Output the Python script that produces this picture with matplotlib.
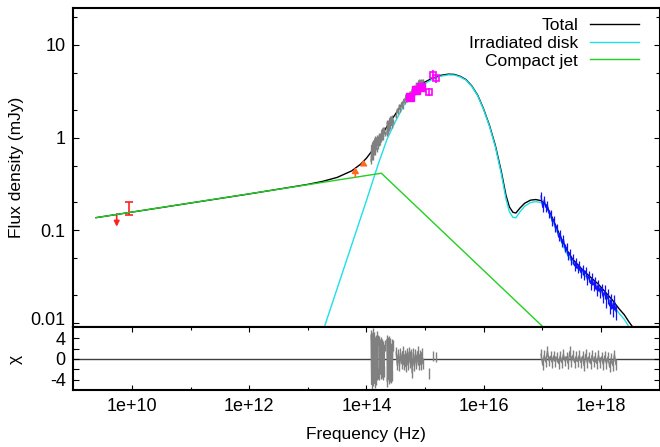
import numpy as np
import matplotlib
matplotlib.use('Agg')
import matplotlib.pyplot as plt
import matplotlib.transforms as mtransforms

plt.rcParams['font.family'] = ['Liberation Sans', 'DejaVu Sans']
plt.rcParams['font.size'] = 13

# ---- model curves (Hz, mJy) ----
jet_nu = [2.44e9, 1.8e14, 1e18]
jet_flux = [0.137, 0.413, 0.00232]

disk_nu = [1e13, 3.16e13, 1e14, 1.585e14, 2.24e14, 3.16e14, 4.47e14, 6.31e14, 8.91e14,
           1.26e15, 1.78e15, 2.51e15, 3.16e15, 3.98e15, 5.01e15, 6.31e15, 7.94e15,
           1.0e16, 1.26e16, 1.585e16, 2.0e16, 2.4e16, 2.75e16, 3.16e16, 3.55e16,
           4.17e16, 5.01e16, 6.31e16, 7.76e16, 9.55e16, 1.175e17, 1.51e17, 1.95e17,
           2.51e17, 3.31e17, 4.57e17, 6.31e17, 8.91e17, 1.23e18, 1.585e18, 2.04e18,
           2.51e18, 3.02e18, 3.98e18]
disk_flux = [0.00263, 0.0234, 0.209, 0.513, 0.955, 1.514, 2.291, 3.020, 3.673,
             4.169, 4.571, 4.753, 4.732, 4.519, 4.169, 3.548, 2.818,
             1.995, 1.318, 0.794, 0.407, 0.219, 0.1585, 0.138, 0.1365,
             0.1585, 0.182, 0.1995, 0.204, 0.1995, 0.178, 0.126, 0.0851,
             0.0589, 0.0442, 0.0355, 0.0292, 0.0240, 0.0191, 0.01585, 0.01276,
             0.01096, 0.00908, 0.00708]

total_nu = [2.44e9, 1e12, 3.16e12, 5.62e12, 1e13, 1.78e13, 3.16e13, 5.62e13, 7.94e13,
            1e14, 1.26e14, 1.585e14, 2.24e14, 3.16e14, 4.47e14, 6.31e14, 8.91e14,
            1.26e15, 1.78e15, 2.51e15, 3.16e15, 3.98e15, 5.01e15, 6.31e15, 7.94e15,
            1.0e16, 1.26e16, 1.585e16, 2.0e16, 2.4e16, 2.75e16, 3.16e16, 3.55e16,
            4.17e16, 5.01e16, 6.31e16, 7.76e16, 9.55e16, 1.175e17, 1.51e17, 1.95e17,
            2.51e17, 3.31e17, 4.57e17, 6.31e17, 8.91e17, 1.23e18, 1.585e18, 2.04e18,
            2.51e18, 3.02e18, 3.98e18]
total_flux = [0.137, 0.247, 0.278, 0.295, 0.313, 0.337, 0.372, 0.438, 0.516,
              0.599, 0.726, 0.921, 1.316, 1.808, 2.530, 3.214, 3.831,
              4.297, 4.675, 4.838, 4.806, 4.583, 4.225, 3.597, 2.860,
              2.032, 1.350, 0.822, 0.432, 0.240, 0.1785, 0.1565, 0.1537,
              0.1741, 0.196, 0.2117, 0.2148, 0.209, 0.1862, 0.1331, 0.0913,
              0.0642, 0.0487, 0.0392, 0.0322, 0.0265, 0.0211, 0.0176, 0.01427,
              0.01229, 0.01027, 0.00809]

# ---- radio ----
radio_ul_nu = 5.5e9
radio_ul_flux = 0.150
radio_nu = 8.9e9
radio_flux = 0.175
radio_err = 0.028

# ---- mid-IR lower limits ----
ir_lim_nu = [6.47e13, 8.95e13]
ir_lim_flux = [0.379, 0.53]

# ---- near-IR spectra (grey), log10 frequency ranges of each chunk ----
nir_ranges = [(14.08, 14.20), (14.213, 14.310), (14.349, 14.451), (14.509, 14.963)]
nir_flux = [
    [0.558, 0.824, 0.624, 0.879, 0.621, 0.877, 0.695, 0.970, 0.697, 0.950, 0.745, 0.990, 0.817, 0.970],
    [0.861, 1.062, 0.883, 1.086, 0.948, 1.194, 1.014, 1.222, 1.014, 1.242, 1.104],
    [1.094, 1.472, 1.167, 1.503, 1.247, 1.603, 1.330, 1.633, 1.358, 1.667, 1.483],
    [1.683, 2.014, 1.866, 2.234, 1.986, 2.377, 2.109, 2.576, 2.393, 2.864, 2.518, 2.891, 2.576,
     3.097, 2.761, 3.319, 2.965, 3.556, 3.027, 3.811, 3.243, 4.083, 3.319, 4.140, 3.483, 4.150],
]
nir_rel_err = [0.07, 0.06, 0.06, 0.04]
nir_chi = [
    [4.6, -4.9, 3.8, -4.3, 5.0, -3.6, 4.2, -4.7, 3.3, -4.0, 4.4, -3.1, 3.6, -2.8],
    [3.4, -3.1, 2.8, -2.9, 3.2, -2.6, 2.9, -3.0, 2.5, -2.4, 2.6],
    [3.7, -4.4, 3.2, -3.9, 3.5, -3.4, 3.0, -3.6, 2.8, -3.2, 2.6],
    [1.3, -1.2, 1.0, -1.4, 1.2, -0.9, 1.4, -1.1, 0.8, -1.5, 1.1, -1.2, 1.3,
     -0.8, 1.0, -2.7, 1.2, -1.3, 0.9, -1.0, 1.4, -1.2, 0.8, -1.1, 1.2, -0.9],
]

# ---- optical / UV photometry (magenta) ----
mag_nu = [5.45e14, 6.89e14, 8.38e14, 1.16e15, 1.36e15, 1.51e15]
mag_flux = [2.77, 3.27, 3.55, 3.09, 4.74, 4.37]
mag_err = [0.15, 0.15, 0.15, 0.30, 0.60, 0.50]
mag_chi = [0.5, -0.3, 0.2, -2.8, 0.5, 0.4]

# ---- X-ray spectrum (blue) ----
xray_range = (16.98, 18.258)
xray_flux = [0.234, 0.177, 0.213, 0.176, 0.186, 0.152, 0.152, 0.124, 0.130, 0.106,
             0.106, 0.0845, 0.0916, 0.0736, 0.0802, 0.0646, 0.0656, 0.0528, 0.0574, 0.0474,
             0.0497, 0.0415, 0.0447, 0.0390, 0.0420, 0.0351, 0.0378, 0.0330, 0.0363, 0.0296,
             0.0319, 0.0267, 0.0302, 0.0258, 0.0272, 0.0228, 0.0258, 0.0216, 0.0233, 0.0190,
             0.0220, 0.0179, 0.0197, 0.0153, 0.0175, 0.0143, 0.0171, 0.0133]
xray_err = [0.023, 0.018, 0.021, 0.018, 0.019, 0.015, 0.015, 0.012, 0.013, 0.011,
            0.011, 0.0085, 0.0092, 0.0074, 0.0080, 0.0065, 0.0066, 0.0053, 0.0057, 0.0047,
            0.0060, 0.0050, 0.0054, 0.0047, 0.0050, 0.0042, 0.0045, 0.0040, 0.0044, 0.0036,
            0.0045, 0.0037, 0.0042, 0.0036, 0.0038, 0.0032, 0.0036, 0.0030, 0.0033, 0.0027,
            0.0040, 0.0032, 0.0035, 0.0028, 0.0032, 0.0026, 0.0031, 0.0024]
xray_chi = [0.9, -1.2, 0.7, -0.6, 1.5, -0.4, 0.5, -0.7, 0.6, -0.5,
            0.4, -0.9, 0.6, -0.7, 0.9, -0.4, 0.4, -0.9, 1.4, -0.5,
            0.7, -0.7, 0.5, -0.5, 0.7, -0.7, 0.5, -1.3, 0.9, -0.7,
            0.4, -0.9, 0.7, -0.5, 0.4, -0.9, 0.7, -0.7, 0.4, -1.1,
            0.6, -0.9, 0.4, -1.6, 0.2, -1.3, 0.8, -1.1]

GREY = '#808080'
W, H = 660, 447

fig = plt.figure(figsize=(6.6, 4.47), dpi=100)
x0, x1 = 73.3, 659.5
ax = fig.add_axes([x0 / W, 1 - 327.3 / H, (x1 - x0) / W, (327.3 - 8) / H])
axr = fig.add_axes([x0 / W, 1 - 390 / H, (x1 - x0) / W, (390 - 327.3) / H])

for a in (ax, axr):
    a.set_xscale('log')
    a.set_xlim(1e9, 1e19)
    for s in a.spines.values():
        s.set_linewidth(1.5)

# main panel
ax.set_yscale('log')
ax.set_ylim(0.009, 25)

ax.errorbar(radio_nu, radio_flux, yerr=radio_err, fmt='none', ecolor='#ff2020',
            elinewidth=1.2, capsize=3, capthick=1.2, zorder=2)
ax.annotate('', xy=(radio_ul_nu, radio_ul_flux * 0.73), xytext=(radio_ul_nu, radio_ul_flux),
            arrowprops=dict(arrowstyle='-|>,head_length=0.4,head_width=0.2', color='#ff2020',
                            lw=1.2, mutation_scale=8, shrinkA=0, shrinkB=0), zorder=2)
for nu, fl, k in zip(ir_lim_nu, ir_lim_flux, [1.26, 1.09]):
    ax.annotate('', xy=(nu, fl * k), xytext=(nu, fl),
                arrowprops=dict(arrowstyle='-|>,head_length=0.4,head_width=0.25', color='#ff6a20',
                                lw=1.2, mutation_scale=8, shrinkA=0, shrinkB=0), zorder=5)

ax.plot(total_nu, total_flux, color='black', lw=1.0, label='Total', zorder=3)
ax.plot(disk_nu, disk_flux, color='#1ee0e6', lw=1.0, label='Irradiated disk', zorder=3)
ax.plot(jet_nu, jet_flux, color='#22d022', lw=1.0, label='Compact jet', zorder=3)

for (lo, hi), fl, rel in zip(nir_ranges, nir_flux, nir_rel_err):
    nu = np.logspace(lo, hi, len(fl))
    fl = np.array(fl)
    ax.errorbar(nu, fl, yerr=fl * rel, fmt='-', color=GREY, lw=1.0, elinewidth=1.0, zorder=4)

xnu = np.logspace(xray_range[0], xray_range[1], len(xray_flux))
ax.errorbar(xnu, xray_flux, yerr=xray_err, fmt='-', color='#1010ff', lw=0.9,
            elinewidth=0.9, zorder=4)

ax.errorbar(mag_nu, mag_flux, yerr=mag_err, fmt='none', ecolor='#ff00ff', elinewidth=1.2, zorder=6)
ax.plot(mag_nu[:3], mag_flux[:3], 's', ms=5.5, color='#ff00ff', zorder=6)
ax.plot(mag_nu[3:], mag_flux[3:], 's', ms=5, mfc='none', mec='#ff00ff', mew=1.2, zorder=6)

ax.set_yticks([0.01, 0.1, 1, 10])
ax.set_yticklabels(['0.01', '0.1', '1', '10'])
ax.set_yticks([0.02, 0.05, 0.2, 0.5, 2, 5, 20], minor=True)
ax.yaxis.set_minor_formatter(matplotlib.ticker.NullFormatter())
ax.tick_params(axis='y', which='both', direction='in', left=True, right=True, width=0.8, pad=5.5)
ax.tick_params(axis='y', which='major', length=4.5)
ax.tick_params(axis='y', which='minor', length=2.7)
ax.tick_params(axis='x', which='both', bottom=False, top=False, labelbottom=False)

# lift the lowest label a little so it clears the residual panel's "4"
lift = mtransforms.ScaledTranslation(0, 3.5 / 72, fig.dpi_scale_trans)
lowest = ax.yaxis.get_major_ticks()[0].label1
lowest.set_transform(lowest.get_transform() + lift)

ax.legend(loc='upper right', bbox_to_anchor=(0.965, 0.969), frameon=False, markerfirst=False,
          fontsize=12.5, handlelength=2.8, handletextpad=0.7, labelspacing=0.15,
          borderaxespad=0, borderpad=0)

# residual panel
axr.set_ylim(-6, 6.1)
axr.axhline(0, color='#404040', lw=1.0, zorder=1)
for (lo, hi), chi in zip(nir_ranges, nir_chi):
    nu = np.logspace(lo, hi, len(chi))
    axr.errorbar(nu, chi, yerr=1, fmt='-', color=GREY, lw=1.0, elinewidth=1.0, zorder=2)
axr.errorbar(mag_nu, mag_chi, yerr=1, fmt='none', ecolor=GREY, elinewidth=1.0, zorder=2)
axr.errorbar(xnu, xray_chi, yerr=1, fmt='-', color=GREY, lw=1.0, elinewidth=1.0, zorder=2)

axr.set_xticks([1e10, 1e12, 1e14, 1e16, 1e18])
axr.set_xticklabels(['1e+10', '1e+12', '1e+14', '1e+16', '1e+18'])
axr.set_xticks([1e11, 1e13, 1e15, 1e17], minor=True)
axr.xaxis.set_minor_formatter(matplotlib.ticker.NullFormatter())
axr.set_yticks([-4, 0, 4])
axr.set_yticklabels(['-4', '0', '4'])
axr.set_yticks([-2, 2], minor=True)
axr.tick_params(axis='both', which='both', direction='in', top=True, right=True, width=0.8)
axr.tick_params(axis='x', which='major', length=3.6, pad=6.1)
axr.tick_params(axis='x', which='minor', length=2.4)
axr.tick_params(axis='y', which='both', length=4.0, pad=5.5)

fig.text(17 / W, 1 - 167 / H, 'Flux density (mJy)', rotation=90, ha='center', va='center', fontsize=12.5)
fig.text(15 / W, 1 - 359 / H, 'χ', rotation=90, ha='center', va='center', fontsize=12.5)
fig.text(366 / W, 1 - 435 / H, 'Frequency (Hz)', ha='center', va='center', fontsize=12.5)

fig.savefig('out.png', dpi=100)
